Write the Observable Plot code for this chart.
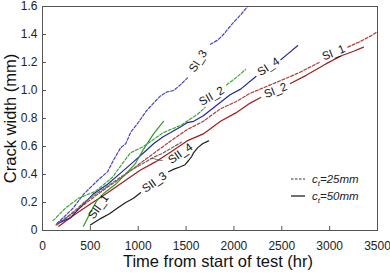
<!DOCTYPE html>
<html>
<head>
<meta charset="utf-8">
<script src="https://cdn.jsdelivr.net/npm/d3@7"></script>
<script src="https://cdn.jsdelivr.net/npm/@observablehq/plot@0.6"></script>
<style>
  html, body { margin: 0; padding: 0; background: #fff; }
  #chart { position: relative; width: 390px; height: 275px; font-family: "Liberation Sans", Arial, sans-serif; }
  #legend { position: absolute; left: 291px; top: 170px; font-size: 11.5px; font-style: italic; color: #222; }
  #legend .row { display: flex; align-items: center; white-space: nowrap; height: 17.5px; line-height: 12px; }
  #legend svg { margin-right: 7px; }
  #legend sub { font-size: 8px; line-height: 0; vertical-align: -3px; }
</style>
</head>
<body>
<div id="chart"></div>
<script>
// Crack width (mm) against time from start of test (hr); NaN breaks a line where its label sits
const SI_1_t = [150, 330, 500, 680, 850, 1020, 1180, 1340, 1510, 1680, 1860, 2020, 2170, 2380, 2590, 2690, 2890, 3040, 3190, 3320, 3430, 3500];
const SI_1_w = [0.04, 0.13, 0.22, 0.31, 0.39, 0.48, 0.56, 0.64, 0.72, 0.78, 0.87, 0.92, 0.98, 1.04, 1.10, 1.13, 1.20, NaN, 1.31, 1.35, 1.39, 1.42];

const SI_2_t = [170, 330, 500, 680, 850, 1020, 1180, 1340, 1510, 1680, 1860, 2020, 2170, 2280, 2430, 2590, 2760, 2960, 3130, 3250, 3354];
const SI_2_w = [0.03, 0.11, 0.19, 0.27, 0.35, 0.43, 0.49, 0.56, 0.64, 0.69, 0.78, 0.84, 0.91, 0.95, NaN, 1.05, 1.11, 1.19, 1.25, 1.28, 1.31];

const SI_3_t = [150, 230, 320, 430, 520, 580, 680, 740, 815, 870, 920, 1000, 1080, 1160, 1230, 1300, 1370, 1440, 1515, 1630, 1755, 1830, 1890, 1950, 2000, 2070, 2142];
const SI_3_w = [0.05, 0.10, 0.16, 0.26, 0.32, 0.36, 0.42, 0.50, 0.59, 0.62, 0.70, 0.77, 0.85, 0.91, 0.96, 0.99, 1.00, 1.04, 1.09, NaN, 1.33, 1.36, 1.40, 1.45, 1.49, 1.54, 1.60];

const SI_4_t = [160, 290, 430, 530, 680, 815, 950, 1080, 1160, 1260, 1340, 1440, 1510, 1580, 1680, 1830, 1960, 2070, 2230, 2360, 2490, 2560, 2665];
const SI_4_w = [0.05, 0.09, 0.19, 0.26, 0.33, 0.41, 0.49, 0.57, 0.62, 0.67, 0.70, 0.74, 0.77, 0.78, 0.82, 0.90, 0.97, 1.01, 1.10, NaN, 1.22, 1.26, 1.32];

const SII_1_t = [428, 502, 564, 648, 763, 878, 972, 1055, 1160, 1264];
const SII_1_w = [0.03, 0.13, 0.21, 0.27, 0.33, 0.41, 0.48, 0.58, 0.69, 0.78];

const SII_2_t = [110, 240, 376, 554, 731, 836, 920, 1055, 1160, 1264, 1442, 1620, 1700, 1810, 1923, 2020, 2121];
const SII_2_w = [0.07, 0.16, 0.23, 0.28, 0.38, 0.48, 0.555, 0.60, 0.65, 0.70, 0.75, 0.83, 0.88, NaN, 1.04, 1.09, 1.15];

const SII_3_t = [500, 606, 700, 784, 870, 951, 1024, 1170, 1317, 1380, 1442, 1490, 1526, 1560, 1578, 1620, 1672, 1735];
const SII_3_w = [0.04, 0.085, 0.12, 0.16, 0.20, 0.23, 0.27, NaN, 0.42, 0.44, 0.455, 0.47, 0.50, 0.53, 0.555, 0.59, 0.62, 0.64];

const SII_4_t = [140, 300, 450, 600, 750, 900, 1000, 1080, 1150, 1250, 1350, 1450];
const SII_4_w = [0.04, 0.12, 0.21, 0.28, 0.35, 0.42, 0.46, 0.49, 0.52, 0.55, 0.59, 0.63];

// Specimen names written along their curves
const labelNames = ["SI_1", "SI_2", "SI_3", "SI_4", "SII_1", "SII_2", "SII_3", "SII_4"];
const labelT =     [3040, 2435, 1625, 2360, 585, 1766, 1170, 1440];
const labelW =     [1.27, 1.00, 1.21, 1.17, 0.17, 0.96, 0.345, 0.55];
const labelAngle = [-22, -22, -57, -33, -55, -30, -35, -35];

// Leader from the SII_4 name to its curve
const leaderFrom = [1255, 0.50];
const leaderTo = [1130, 0.515];

const xTicks = [0, 500, 1000, 1500, 2000, 2500, 3000, 3500];
const yTicks = [0, 0.2, 0.4, 0.6, 0.8, 1.0, 1.2, 1.4, 1.6];

const series = [
  {t: SI_1_t, w: SI_1_w, color: "#b23a3a", dash: "3,1.8"},
  {t: SI_2_t, w: SI_2_w, color: "#a31c1c", dash: null},
  {t: SI_3_t, w: SI_3_w, color: "#4545c4", dash: "3,1.8"},
  {t: SI_4_t, w: SI_4_w, color: "#26269a", dash: null},
  {t: SII_1_t, w: SII_1_w, color: "#2a9a2e", dash: null},
  {t: SII_2_t, w: SII_2_w, color: "#3aac3a", dash: "3,1.8"},
  {t: SII_3_t, w: SII_3_w, color: "#1e1e1e", dash: null},
  {t: SII_4_t, w: SII_4_w, color: "#6a6a6a", dash: "3,1.8"}
];

const lineMarks = series.map(s => Plot.line(s.t.map((t, i) => ({t, w: s.w[i]})), {
  x: "t", y: "w", stroke: s.color, strokeWidth: 1.2, strokeDasharray: s.dash, curve: "linear"
}));

const labels = labelNames.map((name, i) => ({name, t: labelT[i], w: labelW[i], a: labelAngle[i]}));

const font = "'Liberation Sans', Arial, sans-serif";

const chart = Plot.plot({
  width: 390,
  height: 275,
  marginLeft: 42,
  marginRight: 13,
  marginTop: 6,
  marginBottom: 45,
  style: {fontFamily: font, fontSize: "12px", color: "#222", background: "transparent", overflow: "visible"},
  x: {domain: [0, 3500]},
  y: {domain: [0, 1.6]},
  marks: [
    ...lineMarks,
    Plot.link([{}], {x1: () => leaderFrom[0], y1: () => leaderFrom[1], x2: () => leaderTo[0], y2: () => leaderTo[1], stroke: "#444", strokeWidth: 0.8, curve: "bump-x"}),
    Plot.text(labels, {x: "t", y: "w", text: "name", rotate: "a", fontSize: 11.5, fill: "#111"}),
    Plot.frame({stroke: "#555", strokeWidth: 1}),
    Plot.axisX({ticks: xTicks, tickSize: -4, tickPadding: 15, tickFormat: d => String(d), stroke: "#555", label: null}),
    Plot.axisY({ticks: yTicks, tickSize: -4, tickPadding: 9, tickFormat: d => d === 0 ? "0" : d.toFixed(1), stroke: "#555", label: null}),
    Plot.text(["Time from start of test (hr)"], {frameAnchor: "bottom", textAnchor: "middle", dy: 36, dx: 8, fontSize: 16.5, fill: "#111"}),
    Plot.text(["Crack width (mm)"], {frameAnchor: "left", textAnchor: "middle", rotate: -90, dx: -32, fontSize: 16.5, fill: "#111"})
  ]
});

const root = document.getElementById("chart");
root.appendChild(chart);

const legend = document.createElement("div");
legend.id = "legend";
legend.innerHTML = `
  <div class="row"><svg width="14" height="6"><line x1="0" y1="3" x2="14" y2="3" stroke="#333" stroke-width="1.2" stroke-dasharray="2.5,1.5"/></svg><span>c<sub>t</sub>=25mm</span></div>
  <div class="row"><svg width="14" height="6"><line x1="0" y1="3" x2="14" y2="3" stroke="#333" stroke-width="1.4"/></svg><span>c<sub>t</sub>=50mm</span></div>`;
root.appendChild(legend);
</script>
</body>
</html>
